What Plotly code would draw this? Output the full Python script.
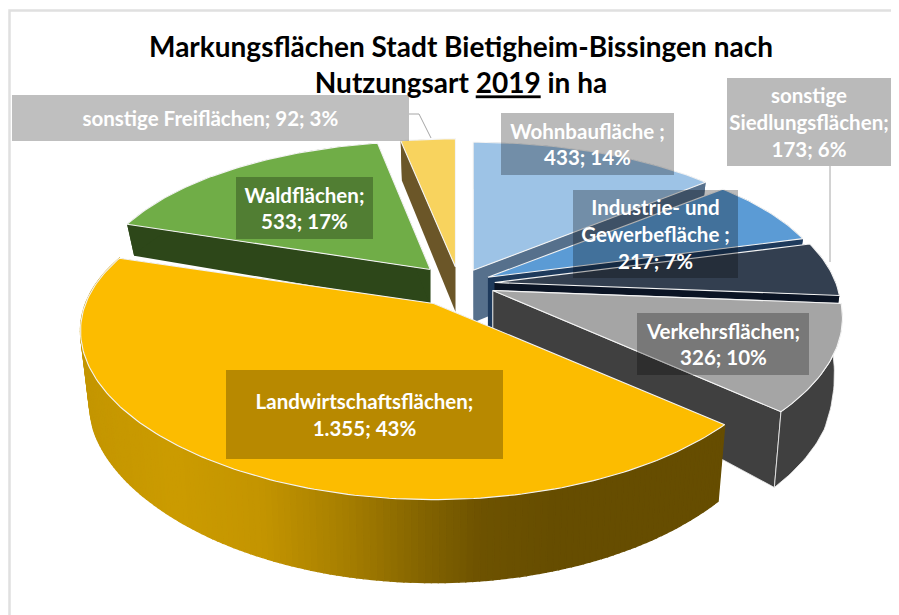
import numpy as np
import plotly.graph_objects as go

# ---------- data ----------
categories = ["Wohnbaufläche ;", "Industrie- und Gewerbefläche ;", "sonstige Siedlungsflächen;",
              "Verkehrsflächen;", "Landwirtschaftsflächen;", "Waldflächen;", "sonstige Freiflächen;"]
values = [433, 217, 173, 326, 1355, 533, 92]
value_text = ["433", "217", "173", "326", "1.355", "533", "92"]
title_lines = ["Markungsflächen Stadt Bietigheim-Bissingen nach", "Nutzungsart <u>2019</u> in ha"]

# ---------- style / projection ----------
pull = [.097, .094, .103, .106, .145, .125, .11]
x_scale = [.97, .98, .98, .99, 1, .965, 1]
extra_depth = [16, 14, 4, 0, 0, 0, 9]
top_col = ["#9DC3E6", "#5B9BD5", "#333F50", "#A5A5A5", "#FCBC00", "#70AD47", "#F8D35E"]
wall_col = ["#56708C", "#1E3A5C", "#0B1424", "#404040", None, "#2D4719", "#6B5628"]
draw_order = [5, 6, 0, 1, 2, 3, 4]
CX, CY, RX, RY, PX, PY = 459, 284, 348, 155, .17, .21
FONT = "Lato"
# the page puts the figure 8 px in from the window's top-left corner
PAGE = 8
FIG_W, FIG_H = 899 - PAGE, 615 - PAGE

def project(theta):
    u, v = np.sin(theta), np.cos(theta)
    return RX * u / (1 + PX * v), -RY * v / (1 + PY * v)

def depth(y):
    return np.interp(y, [220, 270, 300, 358, 430, 500], [31, 36, 50, 72, 77, 83])

fig = go.Figure()

def poly(x, y, color, line=None, w=0.0):
    fig.add_trace(go.Scatter(x=list(x) + [x[0]], y=list(y) + [y[0]], mode="lines", fill="toself",
                             fillcolor=color, line=dict(color=line or color, width=w),
                             hoverinfo="skip", showlegend=False))

total = sum(values)
edges = np.cumsum([0] + values) / total * 2 * np.pi
stops_x = [80, 170, 260, 340, 420, 480, 560, 730]
stops_c = np.array([[0xC4, 0x96, 0x00], [0xCC, 0x9C, 0x00], [0xC4, 0x95, 0x00], [0xA8, 0x80, 0x00],
                    [0x85, 0x65, 0x00], [0x6E, 0x53, 0x00], [0x66, 0x4D, 0x00], [0x66, 0x4D, 0x00]])

for i in draw_order:
    a0, a1 = edges[i], edges[i + 1]
    mid = (a0 + a1) / 2
    ax = CX + RX * pull[i] * np.sin(mid)
    ay = CY - RY * pull[i] * np.cos(mid)
    th = np.linspace(a0, a1, max(int((a1 - a0) * 60), 8))
    dx, dy = project(th)
    dx = dx * x_scale[i]
    xs, ys = ax + dx, ay + dy
    xb = ax + dx * .977
    yb = ys + depth(ys) + extra_depth[i]
    ab = ay + depth(ay) + extra_depth[i]
    wc = wall_col[i]
    edge = "#F2F2F2" if i == 3 else None
    ew = 0.8 if i == 3 else 0
    for k in (0, -1):
        poly([ax, xs[k], xb[k], ax], [ay, ys[k], yb[k], ab], wc or "#6E5300", line=edge, w=ew)
    if wc:
        poly(list(xs) + list(xb[::-1]), list(ys) + list(yb[::-1]), wc, line=edge, w=ew)
    else:
        for j in range(len(th) - 1):
            c = [np.interp((xs[j] + xs[j + 1]) / 2, stops_x, stops_c[:, n]) for n in range(3)]
            col = "rgb(%d,%d,%d)" % tuple(c)
            poly([xs[j], xs[j + 1], xb[j + 1], xb[j]], [ys[j], ys[j + 1], yb[j + 1], yb[j]], col, w=1.4)
    poly([ax] + list(xs), [ay] + list(ys), top_col[i], line="#F4F4F4", w=1.1)

# ---------- labels ----------
pct = [f"{round(v / total * 100)}%" for v in values]
def wrapped(i, splitter=None):
    head = categories[i]
    if splitter:
        head = head.replace(splitter, splitter.rstrip() + "<br>", 1)
    return f"{head}<br>{value_text[i]}; {pct[i]}"

boxes = [
    (501, 674, 113, 175, wrapped(0), .27),
    (573, 738, 190, 278, wrapped(1, "Industrie- und "), .27),
    (727, 891, 78, 166, wrapped(2, "sonstige "), .27),
    (637, 809, 313, 375, wrapped(3), .27),
    (226, 503, 370, 459, wrapped(4), .27),
    (236, 373, 177, 239, wrapped(5), .27),
    (12, 409, 95, 141, f"{categories[6]} {value_text[6]}; {pct[6]}", .25),
]
annotations = []
for x0, x1, y0, y1, text, alpha in boxes:
    annotations.append(dict(x=(x0 + x1) / 2, y=(y0 + y1) / 2, xref="x", yref="y", text=text,
                            showarrow=False, width=x1 - x0, height=y1 - y0, align="center", valign="middle",
                            bgcolor=f"rgba(0,0,0,{alpha})", borderpad=0, borderwidth=0,
                            font=dict(family=FONT, size=20.5, color="#FFFFFF", weight=700)))

shapes = [
    dict(type="rect", x0=9.5, x1=905, y0=10.5, y1=640, line=dict(color="#E0E0E0", width=2.5),
         fillcolor="rgba(0,0,0,0)", layer="below"),
]
fig.add_trace(go.Scatter(x=[409, 419, 431], y=[114, 114, 138], mode="lines", line=dict(color="#A6A6A6", width=1),
                         hoverinfo="skip", showlegend=False))
fig.add_trace(go.Scatter(x=[830, 830], y=[166, 262], mode="lines", line=dict(color="#A6A6A6", width=1),
                         hoverinfo="skip", showlegend=False))

fig.update_layout(
    width=FIG_W, height=FIG_H, margin=dict(l=0, r=0, t=0, b=0), autosize=False,
    paper_bgcolor="white", plot_bgcolor="white", showlegend=False,
    xaxis=dict(range=[PAGE, 899], visible=False, fixedrange=True),
    yaxis=dict(range=[PAGE + FIG_H, PAGE], visible=False, fixedrange=True),
    title=dict(text="<br>".join(title_lines), x=(461 - PAGE) / FIG_W, xanchor="center",
               y=1 - 49 / FIG_H, yanchor="middle",
               font=dict(family=FONT, size=28, color="#000000", weight=700)),
    annotations=annotations, shapes=shapes,
)
fig.write_html("out.html")
